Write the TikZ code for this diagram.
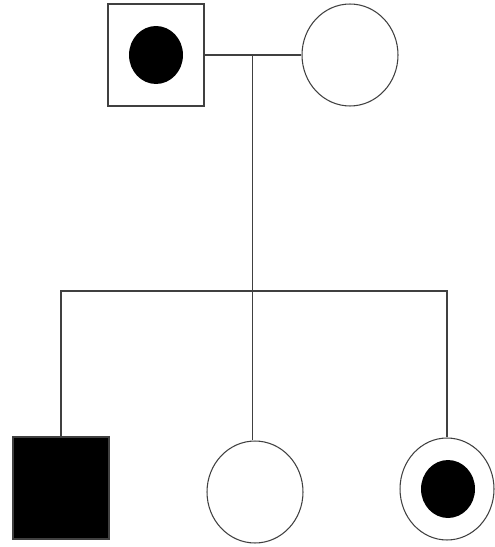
\documentclass[tikz,border=0pt]{standalone}
\usepackage{tikz}
\usetikzlibrary{positioning,shapes.geometric}
\definecolor{lnc}{HTML}{404040}
\tikzset{
  male/.style={draw=lnc,line width=0.6pt,rectangle,minimum width=1.92cm,minimum height=2.04cm,inner sep=0pt},
  female/.style={draw=lnc,line width=0.6pt,ellipse,minimum width=1.92cm,minimum height=2.04cm,inner sep=0pt},
  dot/.style={fill=black,ellipse,minimum width=1.08cm,minimum height=1.16cm,inner sep=0pt},
  ln/.style={draw=lnc,line width=0.6pt},
}
\begin{document}
\begin{tikzpicture}[x=0.02cm,y=-0.02cm]
\useasboundingbox (0,0) rectangle (494,547);
% parents
\node[male] (fat) at (156,55) {};
\node[dot] (fatdot) at (156,55) {};
\node[female] (mum) at (350,55) {};
% children
\node[male,fill=black] (sonA) at (61,488) {};
\node[female] (dauB) at (255,492) {};
\node[female,minimum width=1.88cm] (dauC) at (447,489) {};
\node[dot] (dauCdot) at (448,489) {};
% lines
\coordinate (mar) at (252.5,55);
\coordinate (sib) at (252.5,291);
\draw[ln] (fat) -- (mum);
\draw[ln] (mar) -- (sib);
\draw[ln] (sonA.north) |- (sib) -| (dauC.north);
\draw[ln] (sib) -- (sib |- dauB.north);
\end{tikzpicture}
\end{document}
